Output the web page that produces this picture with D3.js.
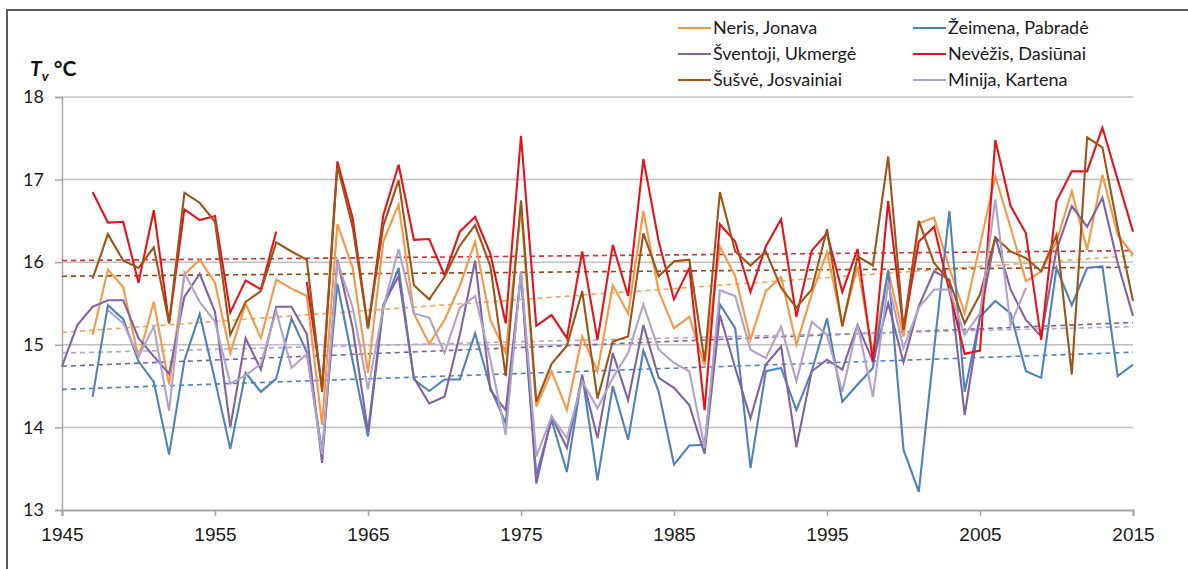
<!DOCTYPE html>
<html>
<head>
<meta charset="utf-8">
<script src="https://cdn.jsdelivr.net/npm/d3@7"></script>
<style>
  body { margin: 0; background: #fff; }
  svg { display: block; }
</style>
</head>
<body>
<div id="chart"></div>
<script>
// years on the x axis
const years = d3.range(1945, 2016);
const xTicks = [1945, 1955, 1965, 1975, 1985, 1995, 2005, 2015];
const yTicks = [13, 14, 15, 16, 17, 18];

// mean water temperature, one value per year (null = no data)
const neris = [null, null, 15.12, 15.91, 15.70, 14.84, 15.52, 14.52, 15.85, 16.03,
  15.75, 14.90, 15.50, 15.08, 15.79, 15.68, 15.59, 14.03, 16.46, 15.93,
  14.66, 16.25, 16.70, 15.38, 15.01, 15.30, 15.71, 16.25, 15.30, 14.90,
  16.65, 14.25, 14.68, 14.21, 15.10, 14.68, 15.72, 15.38, 16.62, 15.65,
  15.20, 15.34, 14.75, 16.19, 15.83, 15.06, 15.65, 15.82, 15.00, 15.61,
  16.12, 15.24, 15.95, 14.90, 15.90, 15.10, 16.47, 16.54, 15.93, 15.38,
  16.21, 17.04, 16.42, 15.77, 15.89, 16.25, 16.86, 16.15, 17.06, 16.33, 16.09];
const zeimena = [null, null, 14.37, 15.48, 15.31, 14.80, 14.55, 13.67, 14.81, 15.37,
  14.57, 13.74, 14.66, 14.43, 14.59, 15.32, 14.91, 13.71, 15.74, 14.80,
  13.89, 15.45, 15.93, 14.58, 14.44, 14.58, 14.58, 15.14, 14.48, 14.05,
  15.87, 13.42, 14.09, 13.46, 14.64, 13.36, 14.50, 13.85, 14.93, 14.43,
  13.55, 13.78, 13.79, 15.49, 15.20, 13.51, 14.68, 14.72, 14.21, 14.68,
  15.32, 14.31, 14.52, 14.72, 15.91, 13.73, 13.22, 14.95, 16.62, 14.43,
  15.34, 15.53, 15.38, 14.68, 14.60, 15.93, 15.48, 15.93, 15.95, 14.62, 14.76];
const sventoji = [14.74, 15.24, 15.46, 15.54, 15.54, 15.08, 14.86, 14.65, 15.58, 15.86,
  15.40, 14.00, 15.08, 14.70, 15.46, 15.46, 15.13, 13.57, 16.03, 15.20,
  13.95, 15.49, 15.83, 14.60, 14.29, 14.37, 15.12, 16.02, 14.45, 14.21,
  15.85, 13.32, 14.13, 13.75, 14.62, 13.87, 14.90, 14.33, 15.24, 14.60,
  14.48, 14.27, 13.68, 15.36, 14.72, 14.11, 14.76, 14.98, 13.76, 14.68,
  14.82, 14.70, 15.24, 14.80, 15.50, 14.79, 15.47, 15.89, 15.79, 14.15,
  15.34, 16.31, 15.67, 15.30, 15.10, 16.15, 16.68, 16.43, 16.78, 15.99, 15.35];
const nevezis = [null, null, 16.85, 16.48, 16.49, 15.75, 16.63, 15.26, 16.64, 16.51,
  16.56, 15.39, 15.78, 15.67, 16.37, null, 15.76, 14.48, 17.22, 16.53,
  15.20, 16.57, 17.18, 16.27, 16.28, 15.84, 16.37, 16.55, 16.10, 15.26,
  17.53, 15.23, 15.36, 15.08, 16.13, 15.06, 16.21, 15.59, 17.25, 16.25,
  15.55, 15.93, 14.21, 16.46, 16.25, 15.64, 16.19, 16.52, 15.34, 16.14,
  16.35, 15.64, 16.16, 14.80, 16.74, 15.18, 16.25, 16.43, 15.65, 14.89,
  14.93, 17.48, 16.68, 16.35, 15.06, 16.74, 17.10, 17.10, 17.63, 17.00, 16.37];
const susve = [null, null, 15.80, 16.34, 16.02, 15.93, 16.18, 15.26, 16.84, 16.72,
  16.49, 15.12, 15.52, 15.65, 16.24, 16.13, 16.03, 14.43, 17.17, 16.42,
  15.20, 16.44, 16.99, 15.72, 15.55, 15.82, 16.20, 16.45, 15.95, 14.62,
  16.75, 14.31, 14.77, 14.99, 15.65, 14.35, 15.04, 15.10, 16.35, 15.83,
  16.01, 16.03, 14.80, 16.85, 16.13, 15.96, 16.13, 15.69, 15.45, 15.67,
  16.40, 15.22, 16.07, 15.96, 17.28, 15.20, 16.50, 15.99, 15.77, 15.26,
  15.61, 16.30, 16.13, 16.05, 15.89, 16.33, 14.64, 17.51, 17.39, 16.42, 15.53];
const minija = [null, null, null, 15.42, 15.26, 14.86, 15.22, 14.20, 15.87, 15.52,
  15.28, 14.53, 14.63, 14.77, 15.41, 14.72, 14.89, 13.67, 16.01, 15.45,
  14.46, 15.45, 16.16, 15.38, 15.33, 14.90, 15.45, 15.59, 14.82, 13.91,
  15.89, 13.65, 14.13, 13.87, 14.56, 14.23, 14.60, 14.90, 15.49, 14.94,
  14.78, 14.68, 13.75, 15.66, 15.59, 14.94, 14.84, 15.22, 14.56, 15.28,
  15.12, 14.43, 15.24, 14.37, 15.75, 14.96, 15.45, 15.67, 15.67, 15.12,
  15.38, 16.76, 15.24, 15.69, null, null, null, null, null, null, null];

// linear trend values at 1945 and 2015
const trendNeris = [15.15, 16.08];
const trendZeimena = [14.46, 14.91];
const trendSventoji = [14.74, 15.27];
const trendNevezis = [16.02, 16.14];
const trendSusve = [15.83, 15.94];
const trendMinija = [14.90, 15.22];

const names = ["Neris, Jonava", "Žeimena, Pabradė", "Šventoji, Ukmergė",
  "Nevėžis, Dasiūnai", "Šušvė, Josvainiai", "Minija, Kartena"];
const colors = ["#F79646", "#4F81BD", "#8064A2", "#E3141C", "#9C5418", "#B3A2C7"];
const trendColors = ["#F4A460", "#4F7FC0", "#7A6296", "#D0313A", "#8B4A1C", "#B3A6CA"];

const seriesVals = [neris, zeimena, sventoji, nevezis, susve, minija];
const trends = [trendNeris, trendZeimena, trendSventoji, trendNevezis, trendSusve, trendMinija];

const W = 1188, H = 569;
const margin = { top: 97, right: 55, bottom: 59, left: 62 };

const svg = d3.select("#chart").append("svg")
  .attr("width", W)
  .attr("height", H);

// outer frame
svg.append("rect")
  .attr("x", 7).attr("y", 10)
  .attr("width", W + 20).attr("height", H + 20)
  .attr("fill", "none")
  .attr("stroke", "#595959")
  .attr("stroke-width", 2);

const x = d3.scaleLinear()
  .domain([1945, 2015])
  .range([margin.left, W - margin.right]);
const y = d3.scaleLinear()
  .domain([13, 18])
  .range([H - margin.bottom, margin.top]);

// gridlines
svg.append("g")
  .selectAll("line")
  .data(yTicks.filter(d => d > 13))
  .join("line")
  .attr("x1", x(1945)).attr("x2", x(2015))
  .attr("y1", d => y(d)).attr("y2", d => y(d))
  .attr("stroke", "#C0C0C0")
  .attr("stroke-width", 1.5);

// x axis
const xAxis = svg.append("g")
  .attr("transform", `translate(0,${y(13)})`)
  .call(d3.axisBottom(x).tickValues(xTicks).tickFormat(d3.format("d")).tickSize(6).tickPadding(12));
xAxis.select(".domain").attr("stroke", "#A6A6A6").attr("stroke-width", 2);
xAxis.selectAll(".tick line").attr("stroke", "#A6A6A6").attr("stroke-width", 1.5);
xAxis.selectAll("text")
  .attr("fill", "#1a1a1a")
  .style("font-family", "'Liberation Sans Narrow', Arial, sans-serif")
  .style("font-size", "19px");

// y axis
const yAxis = svg.append("g")
  .attr("transform", `translate(${x(1945)},0)`)
  .call(d3.axisLeft(y).tickValues(yTicks).tickFormat(d3.format("d")).tickSize(7).tickPadding(11));
yAxis.select(".domain").attr("stroke", "#A6A6A6").attr("stroke-width", 1.5);
yAxis.selectAll(".tick line").attr("stroke", "#A6A6A6").attr("stroke-width", 1.5);
yAxis.selectAll("text")
  .attr("fill", "#1a1a1a")
  .style("font-family", "Lato, 'Open Sans', sans-serif")
  .style("font-size", "18px");

// axis title
const title = svg.append("text")
  .attr("x", 30).attr("y", 76)
  .attr("fill", "#111")
  .style("font-family", "Lato, 'Open Sans', sans-serif")
  .style("font-weight", "bold")
  .style("font-size", "21px");
title.append("tspan").style("font-style", "italic").text("T");
title.append("tspan").style("font-style", "italic").style("font-size", "14px").attr("dy", 5).text("v");
title.append("tspan").attr("dy", -5).text(" °C");

// trend lines (dashed)
svg.append("g")
  .selectAll("line")
  .data(trends)
  .join("line")
  .attr("x1", x(1945)).attr("x2", x(2015))
  .attr("y1", d => y(d[0])).attr("y2", d => y(d[1]))
  .attr("stroke", (d, i) => trendColors[i])
  .attr("stroke-width", 1.6)
  .attr("stroke-dasharray", "5,4");

// data lines
const line = d3.line()
  .defined(d => d[1] != null)
  .x(d => x(d[0]))
  .y(d => y(d[1]));

svg.append("g")
  .selectAll("path")
  .data(seriesVals)
  .join("path")
  .attr("d", vals => line(years.map((yr, i) => [yr, vals[i]])))
  .attr("fill", "none")
  .attr("stroke", (d, i) => colors[i])
  .attr("stroke-width", 2.1)
  .attr("stroke-linejoin", "miter");

// legend, two columns of three
const legend = svg.append("g")
  .selectAll("g")
  .data(names)
  .join("g")
  .attr("transform", (d, i) => `translate(${i % 2 === 0 ? 678 : 913},${28 + Math.floor(i / 2) * 26})`);
legend.append("line")
  .attr("x1", 0).attr("x2", 33)
  .attr("stroke", (d, i) => colors[i])
  .attr("stroke-width", 2);
legend.append("text")
  .attr("x", 35).attr("dy", "0.35em")
  .attr("fill", "#1a1a1a")
  .style("font-family", "Lato, 'Open Sans', sans-serif")
  .style("font-size", "18px")
  .text(d => d);
</script>
</body>
</html>
